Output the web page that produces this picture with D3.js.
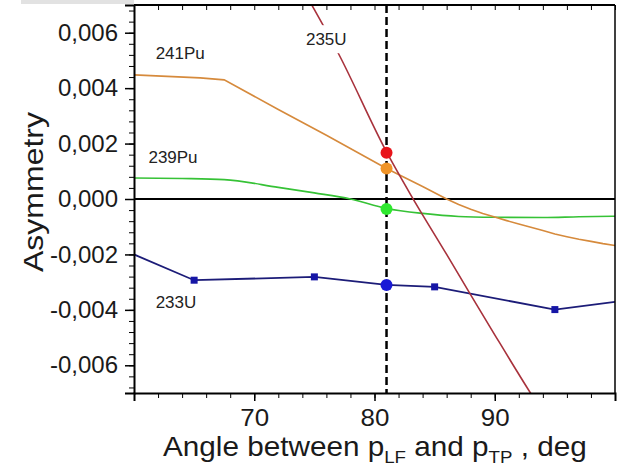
<!DOCTYPE html>
<html>
<head>
<meta charset="utf-8">
<script src="https://cdn.jsdelivr.net/npm/d3@7"></script>
<style>
  html, body { margin: 0; padding: 0; background: #fff; }
  svg { display: block; font-family: "Liberation Sans", Arial, sans-serif; }
</style>
</head>
<body>
<svg id="chart" width="617" height="467"></svg>
<script>
// Angle axis ticks and asymmetry axis ticks
const xMajorTicks = [70, 80, 90];
const yMajorTicks = [-0.006, -0.004, -0.002, 0, 0.002, 0.004, 0.006];

// 235U
const u235Angle = [74, 77, 81, 83, 86, 88, 90, 93, 94];
const u235Value = [0.0076, 0.00525, 0.0017, 0.00016, -0.002, -0.00346, -0.0049, -0.00702, -0.0077];

// 241Pu
const pu241Angle = [60, 65.5, 67.5, 72, 76, 81, 84, 86, 87, 88, 89, 90, 91, 92, 93, 94, 95, 96, 97, 98, 99, 100];
const pu241Value = [0.00448, 0.00437, 0.0043, 0.00323, 0.0023, 0.0011, 0.00045, 0.0, -0.0002, -0.00037, -0.00052, -0.00065, -0.00078, -0.0009, -0.00102, -0.00114, -0.00126, -0.00136, -0.00145, -0.00153, -0.00161, -0.00168];

// 239Pu
const pu239Angle = [60, 64, 67.5, 72, 75, 78, 81, 84, 87, 90, 94, 97, 100];
const pu239Value = [0.00076, 0.00074, 0.0007, 0.00042, 0.00022, 0.0, -0.00034, -0.00052, -0.00063, -0.00066, -0.00067, -0.00064, -0.00062];

// 233U
const u233Angle = [60, 65, 75, 81, 85, 95, 100];
const u233Value = [-0.002, -0.00293, -0.00281, -0.0031, -0.00317, -0.00399, -0.00371];
const u233MarkerAngle = [65, 75, 85, 95];

// Values at the reference angle (dashed line)
const refAngle = 81;
const refNames = ["235U", "241Pu", "239Pu", "233U"];
const refValue = [0.00167, 0.0011, -0.00036, -0.0031];

const svg = d3.select("#chart");
const m = { left: 134, top: 5, right: 615, bottom: 393 };

const x = d3.scaleLinear().domain([60, 100]).range([m.left, m.right]);
const y = d3.scaleLinear().domain([-0.007, 0.007]).range([m.bottom, m.top]);

const fmt = v => d3.format(".3f")(v).replace(".", ",").replace("\u2212", "-");

// faint strip at the top-left
svg.append("rect").attr("x", 21).attr("y", 0).attr("width", 113).attr("height", 4).attr("fill", "#e2e2e2");

svg.append("defs").append("clipPath").attr("id", "plot")
  .append("rect").attr("x", m.left).attr("y", m.top)
  .attr("width", m.right - m.left).attr("height", m.bottom - m.top);

const plot = svg.append("g").attr("clip-path", "url(#plot)");

// zero line
plot.append("line")
  .attr("x1", m.left).attr("x2", m.right)
  .attr("y1", y(0)).attr("y2", y(0))
  .attr("stroke", "#000").attr("stroke-width", 2);

const zip = (a, b) => a.map((d, i) => [d, b[i]]);
const smooth = d3.line().x(d => x(d[0])).y(d => y(d[1])).curve(d3.curveMonotoneX);
const straight = d3.line().x(d => x(d[0])).y(d => y(d[1]));

plot.append("path").attr("d", smooth(zip(pu239Angle, pu239Value)))
  .attr("fill", "none").attr("stroke", "#36c236").attr("stroke-width", 1.6);
plot.append("path").attr("d", straight(zip(pu241Angle, pu241Value)))
  .attr("fill", "none").attr("stroke", "#d68a3c").attr("stroke-width", 1.6);
plot.append("path").attr("d", straight(zip(u233Angle, u233Value)))
  .attr("fill", "none").attr("stroke", "#1c1c78").attr("stroke-width", 1.8);
plot.append("path").attr("d", smooth(zip(u235Angle, u235Value)))
  .attr("fill", "none").attr("stroke", "#a8323c").attr("stroke-width", 1.6);

// 233U square markers
plot.selectAll("rect.sq").data(u233MarkerAngle).enter().append("rect")
  .attr("class", "sq")
  .attr("x", d => x(d) - 3.5)
  .attr("y", d => y(u233Value[u233Angle.indexOf(d)]) - 3.5)
  .attr("width", 7).attr("height", 7)
  .attr("fill", "#1616a6");

// dashed reference line
plot.append("line")
  .attr("x1", x(refAngle)).attr("x2", x(refAngle))
  .attr("y1", m.top).attr("y2", m.bottom)
  .attr("stroke", "#000").attr("stroke-width", 2.5)
  .attr("stroke-dasharray", "8,4");

// values at the reference angle
const refColor = ["#e8141a", "#f09428", "#2ee82e", "#1a1ad6"];
plot.selectAll("circle.ref").data(refValue).enter().append("circle")
  .attr("class", "ref")
  .attr("cx", x(refAngle))
  .attr("cy", d => y(d))
  .attr("r", 6)
  .attr("fill", (d, i) => refColor[i]);

// series labels
const labels = [
  { t: "241Pu", a: 61.8, v: 0.00505 },
  { t: "239Pu", a: 61.2, v: 0.00130 },
  { t: "233U",  a: 61.8, v: -0.00394 },
  { t: "235U",  a: 74.3, v: 0.00555 }
];
const lab = svg.append("g").attr("font-size", 17).attr("fill", "#222");
labels.forEach(l => {
  if (l.t === "235U") {
    lab.append("rect").attr("x", x(l.a) - 3).attr("y", y(l.v) - 20)
      .attr("width", 48).attr("height", 28).attr("fill", "#fff");
  }
  lab.append("text").attr("x", x(l.a)).attr("y", y(l.v)).text(l.t);
});

// frame
svg.append("line").attr("x1", m.left).attr("x2", m.right).attr("y1", m.top).attr("y2", m.top)
  .attr("stroke", "#000").attr("stroke-width", 2);
svg.append("line").attr("x1", m.right).attr("x2", m.right).attr("y1", m.top).attr("y2", m.bottom)
  .attr("stroke", "#000").attr("stroke-width", 1.5);

// minor tick positions
const xMinor = d3.range(60, 100.01, 2);
const yMinor = d3.range(-0.0068, 0.00681, 0.0004).map(v => +v.toFixed(5));

// bottom axis
const bottomAxis = svg.append("g").attr("transform", `translate(0,${m.bottom})`)
  .call(d3.axisBottom(x).tickValues(xMajorTicks).tickSize(8).tickPadding(8).tickFormat(d3.format("d")));
bottomAxis.selectAll(".tick text").attr("font-size", 24).attr("fill", "#1a1a1a")
  .attr("transform", "scale(1.08,1)");
bottomAxis.select(".domain").attr("stroke-width", 2);
bottomAxis.selectAll(".tick line").attr("stroke-width", 1.5);
svg.append("g").attr("transform", `translate(0,${m.bottom})`)
  .call(d3.axisBottom(x).tickValues(xMinor).tickSize(5))
  .call(g => g.select(".domain").remove())
  .call(g => g.selectAll("text").remove());

// top axis ticks pointing into the plot
svg.append("g").attr("transform", `translate(0,${m.top})`)
  .call(d3.axisBottom(x).tickValues(xMinor).tickSize(5))
  .call(g => g.select(".domain").remove())
  .call(g => g.selectAll("text").remove());

// left axis
const leftAxis = svg.append("g").attr("transform", `translate(${m.left},0)`)
  .call(d3.axisLeft(y).tickValues(yMajorTicks).tickSize(9).tickPadding(7).tickFormat(fmt));
leftAxis.selectAll(".tick text").attr("font-size", 24).attr("fill", "#1a1a1a");
leftAxis.select(".domain").attr("stroke-width", 2);
leftAxis.selectAll(".tick line").attr("stroke-width", 1.5);
svg.append("g").attr("transform", `translate(${m.left},0)`)
  .call(d3.axisLeft(y).tickValues(yMinor).tickSize(5))
  .call(g => g.select(".domain").remove())
  .call(g => g.selectAll("text").remove());

// axis titles
svg.append("text")
  .attr("transform", "translate(43,192) rotate(-90)")
  .attr("text-anchor", "middle")
  .attr("font-size", 28)
  .attr("fill", "#1a1a1a")
  .attr("textLength", 160).attr("lengthAdjust", "spacingAndGlyphs")
  .text("Asymmetry");

const xt = svg.append("g").attr("transform", "translate(163,456) scale(1.1,1)")
  .append("text").attr("x", 0).attr("y", 0).attr("font-size", 27).attr("fill", "#1a1a1a");
xt.append("tspan").text("Angle between p");
xt.append("tspan").attr("font-size", 17).attr("dy", 7).text("LF");
xt.append("tspan").attr("dy", -7).text(" and p");
xt.append("tspan").attr("font-size", 17).attr("dy", 7).text("TP");
xt.append("tspan").attr("dy", -7).text(" , deg");
</script>
</body>
</html>
